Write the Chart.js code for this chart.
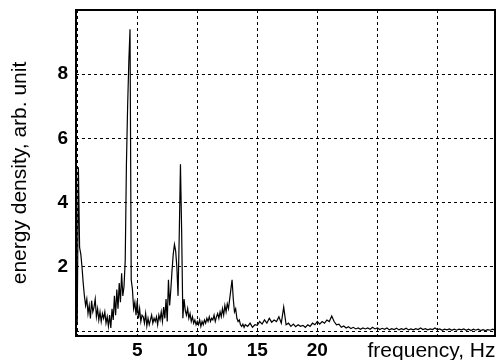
<!DOCTYPE html>
<html>
<head>
<meta charset="utf-8">
<script src="https://cdn.jsdelivr.net/npm/chart.js@4/dist/chart.umd.min.js"></script>
<style>
  html, body { margin: 0; padding: 0; background: #fff; }
</style>
</head>
<body>
<canvas id="spectrum-chart" width="500" height="360"></canvas>
<script>
// spectrum sampled every 0.1 Hz from 0 to 14 Hz
var lowStart = 0;
var lowStep = 0.1;
var lowDensity = [
    0.2, 5.1, 2.6, 2.4, 2.0, 1.5, 1.1, 0.8, 1.0, 0.55,
    0.8, 0.4, 0.95, 0.6, 0.75, 1.0, 0.45, 0.7, 0.35, 0.6,
    0.3, 0.55, 0.4, 0.6, 0.25, 0.45, 0.15, 0.5, 0.1, 0.7,
    0.35, 1.1, 0.5, 1.3, 0.7, 1.5, 0.9, 1.8, 1.1, 1.4,
    2.2, 5.2, 7.0, 8.4, 9.4, 1.6, 1.3, 0.7, 0.9, 0.5,
    0.95, 0.4, 0.7, 0.3, 0.5, 0.45, 0.25, 0.55, 0.16, 0.4,
    0.2, 0.35, 0.5, 0.25, 0.4, 0.3, 0.45, 0.2, 0.5, 0.35,
    0.6, 0.3, 0.75, 0.4, 1.0, 0.3, 1.6, 0.8, 1.3, 1.9,
    2.4, 2.7, 2.5, 2.0, 1.1, 3.0, 5.2, 3.1, 0.4, 1.0,
    0.65, 0.5, 0.7, 0.4, 0.55, 0.3, 0.45, 0.25, 0.35, 0.2,
    0.3, 0.2, 0.35, 0.15, 0.3, 0.2, 0.35, 0.25, 0.4, 0.3,
    0.45, 0.3, 0.4, 0.35, 0.5, 0.3, 0.45, 0.55, 0.4, 0.6,
    0.45, 0.7, 0.5, 0.8, 0.6, 0.85, 0.7, 1.0, 1.3, 1.6,
    1.0, 0.6, 0.7, 0.4, 0.3, 0.35, 0.2, 0.15, 0.22, 0.12,
    0.2
];

// coarser part, every 0.2 Hz from 14.2 Hz on
var highStart = 14.2;
var highStep = 0.2;
var highDensity = [
    0.15, 0.25, 0.12, 0.2, 0.18, 0.3, 0.22, 0.35, 0.25, 0.4,
    0.28, 0.35, 0.3, 0.45, 0.25, 0.75, 0.2, 0.25, 0.15, 0.22,
    0.14, 0.2, 0.15, 0.18, 0.12, 0.2, 0.15, 0.25, 0.2, 0.3,
    0.22, 0.3, 0.25, 0.35, 0.3, 0.47, 0.3, 0.2, 0.22, 0.12,
    0.16, 0.1, 0.14, 0.08, 0.12, 0.07, 0.1, 0.06, 0.1, 0.07,
    0.1, 0.06, 0.12, 0.07, 0.1, 0.05, 0.09, 0.06, 0.1, 0.04,
    0.08, 0.05, 0.09, 0.04, 0.08, 0.05, 0.09, 0.04, 0.07, 0.04,
    0.08, 0.05, 0.1, 0.05, 0.08, 0.04, 0.07, 0.05, 0.1, 0.05,
    0.07, 0.03, 0.06, 0.04, 0.07, 0.03, 0.06, 0.03, 0.06, 0.04,
    0.07, 0.03, 0.06, 0.02, 0.06, 0.03, 0.06, 0.02, 0.05, 0.02,
    0.05, 0.03, 0.06, 0.03
];

var xTicks = [0, 5, 10, 15, 20, 25, 30];
var xTickLabels = ['', '5', '10', '15', '20', '', 'frequency, Hz  '];
var yTicks = [0, 2, 4, 6, 8];
var yTickLabels = ['', '2', '4', '6', '8'];
var yTitle = 'energy density, arb. unit';

var toPoints = function (start, step, values) {
    return values.map(function (v, i) {
        return {x: Math.round((start + i * step) * 100) / 100, y: v};
    });
};

var points = toPoints(lowStart, lowStep, lowDensity).concat(toPoints(highStart, highStep, highDensity));

// frame round the plot area
var frameBox = {
    id: 'frameBox',
    afterDraw: function (chart) {
        var a = chart.chartArea;
        var ctx = chart.ctx;
        ctx.save();
        ctx.strokeStyle = '#000';
        ctx.lineWidth = 2;
        ctx.strokeRect(a.left, a.top, a.right - a.left, a.bottom - a.top);
        ctx.restore();
    }
};

var gridStyle = {color: '#000', lineWidth: 1, drawTicks: false};

new Chart(document.getElementById('spectrum-chart'), {
    type: 'line',
    data: {
        datasets: [{
            data: points,
            borderColor: '#000',
            borderWidth: 1.2,
            pointRadius: 0,
            tension: 0,
            fill: false
        }]
    },
    options: {
        responsive: false,
        animation: false,
        devicePixelRatio: 1,
        layout: {padding: {top: 10, right: 5, left: 0, bottom: 0}},
        plugins: {legend: {display: false}, tooltip: {enabled: false}},
        scales: {
            x: {
                type: 'linear',
                min: -0.1,
                max: 34.8,
                afterBuildTicks: function (scale) {
                    scale.ticks = xTicks.map(function (v) { return {value: v}; });
                },
                afterFit: function (scale) {
                    scale.height = 24;
                    scale.paddingLeft = 0;
                    scale.paddingRight = 0;
                },
                grid: gridStyle,
                border: {display: false, dash: [3, 3]},
                ticks: {
                    autoSkip: false,
                    maxRotation: 0,
                    padding: 3,
                    color: '#000',
                    font: function (ctx) {
                        if (ctx.tick && ctx.tick.value === 30) {
                            return {family: 'Liberation Sans', size: 21};
                        }
                        return {family: 'Liberation Sans', size: 19, weight: 'bold'};
                    },
                    callback: function (v) {
                        return xTickLabels[xTicks.indexOf(v)];
                    }
                }
            },
            y: {
                min: -0.15,
                max: 10,
                afterBuildTicks: function (scale) {
                    scale.ticks = yTicks.map(function (v) { return {value: v}; });
                },
                afterFit: function (scale) {
                    scale.width = 76;
                    scale.paddingTop = 0;
                    scale.paddingBottom = 0;
                },
                grid: gridStyle,
                border: {display: false, dash: [3, 3]},
                title: {
                    display: true,
                    text: yTitle,
                    color: '#000',
                    padding: {top: 8, bottom: 0},
                    font: {family: 'Liberation Sans', size: 21}
                },
                ticks: {
                    padding: 8,
                    color: '#000',
                    font: {family: 'Liberation Sans', size: 19, weight: 'bold'},
                    callback: function (v) {
                        return yTickLabels[yTicks.indexOf(v)];
                    }
                }
            }
        }
    },
    plugins: [frameBox]
});
</script>
</body>
</html>
